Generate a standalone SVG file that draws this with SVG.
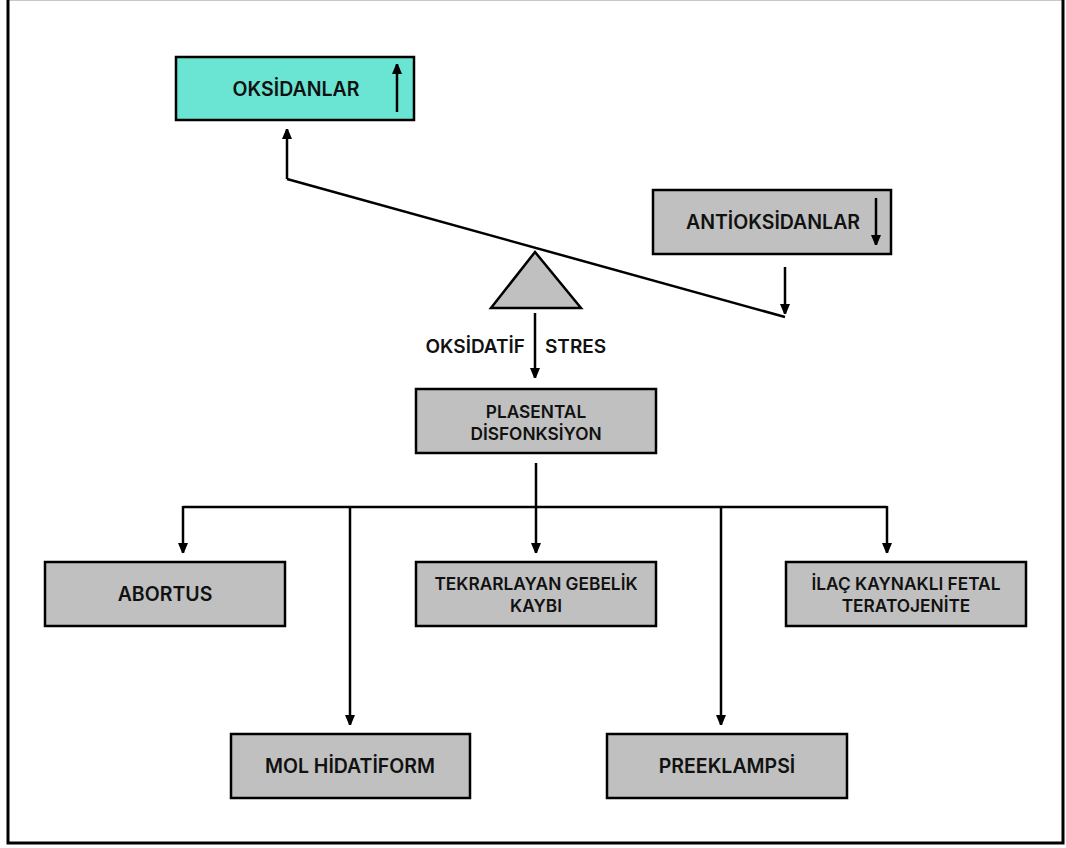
<svg xmlns="http://www.w3.org/2000/svg" width="1066" height="848" viewBox="0 0 1066 848">
<defs>
<marker id="ah" viewBox="0 0 10 12" refX="10" refY="5" markerWidth="10" markerHeight="12" markerUnits="userSpaceOnUse" orient="auto">
<path d="M0,0 L12,5 L0,10 Z" fill="#000"/>
</marker>
<style>
.box{fill:#c0c0c0;stroke:#000;stroke-width:2.5}
.cyan{fill:#6ae5d3;stroke:#000;stroke-width:2.5}
.lbl{font-family:Inter,"Liberation Sans",sans-serif;font-weight:600;font-size:19.5px;fill:#111;text-anchor:middle}
.sm{font-size:17.3px}
.ln{stroke:#000;stroke-width:2.5;fill:none}
.ar{stroke:#000;stroke-width:2.5;fill:none;marker-end:url(#ah)}
</style>
</defs>
<rect x="0" y="0" width="1066" height="848" fill="#fff"/>
<line x1="7" y1="0.5" x2="1064" y2="0.5" stroke="#c8c8c8" stroke-width="1"/>
<path d="M8,0 V843 H1063 V0" fill="none" stroke="#000" stroke-width="3"/>

<g id="oksidanlar">
<rect class="cyan" x="176" y="57" width="238" height="63"/>
<text class="lbl" x="296" y="96">OKSİDANLAR</text>
<line class="ar" x1="397" y1="112" x2="397" y2="64"/>
</g>
<g id="antioksidanlar">
<rect class="box" x="653" y="190" width="238" height="64"/>
<text class="lbl" x="773" y="229">ANTİOKSİDANLAR</text>
<line class="ar" x1="876" y1="198" x2="876" y2="245"/>
</g>
<g id="fulcrum">
<polygon points="535,252 491,308 581,308" fill="#c0c0c0" stroke="#000" stroke-width="2.5" stroke-linejoin="miter"/>
</g>
<g id="plasental">
<rect class="box" x="416" y="389" width="240" height="64"/>
<text class="lbl sm" x="536" y="418">PLASENTAL</text>
<text class="lbl sm" x="536" y="440">DİSFONKSİYON</text>
</g>
<g id="abortus">
<rect class="box" x="45" y="562" width="240" height="64"/>
<text class="lbl" x="165" y="601">ABORTUS</text>
</g>
<g id="tekrarlayan">
<rect class="box" x="416" y="562" width="240" height="64"/>
<text class="lbl sm" x="536" y="590">TEKRARLAYAN GEBELİK</text>
<text class="lbl sm" x="536" y="612">KAYBI</text>
</g>
<g id="ilac">
<rect class="box" x="786" y="562" width="240" height="64"/>
<text class="lbl sm" x="906" y="590">İLAÇ KAYNAKLI FETAL</text>
<text class="lbl sm" x="906" y="612">TERATOJENİTE</text>
</g>
<g id="mol">
<rect class="box" x="231" y="734" width="239" height="64"/>
<text class="lbl" x="350" y="773">MOL HİDATİFORM</text>
</g>
<g id="preeklampsi">
<rect class="box" x="607" y="734" width="240" height="64"/>
<text class="lbl" x="727" y="773">PREEKLAMPSİ</text>
</g>

<g id="connectors">
<line class="ln" x1="287" y1="179" x2="785" y2="317"/>
<line class="ar" x1="287" y1="179" x2="287" y2="129"/>
<line class="ar" x1="785" y1="267" x2="785" y2="314"/>
<line class="ar" x1="535" y1="313" x2="535" y2="378"/>
<text class="lbl" x="525" y="353" style="text-anchor:end;font-size:19px">OKSİDATİF</text>
<text class="lbl" x="545" y="353" style="text-anchor:start;font-size:19px">STRES</text>
<line class="ln" x1="536" y1="463" x2="536" y2="507"/>
<path class="ln" d="M183,507 H887"/>
<line class="ar" x1="183" y1="506" x2="183" y2="553"/>
<line class="ar" x1="536" y1="506" x2="536" y2="553"/>
<line class="ar" x1="887" y1="506" x2="887" y2="553"/>
<line class="ar" x1="350" y1="506" x2="350" y2="725"/>
<line class="ar" x1="721" y1="506" x2="721" y2="725"/>
</g>
</svg>
